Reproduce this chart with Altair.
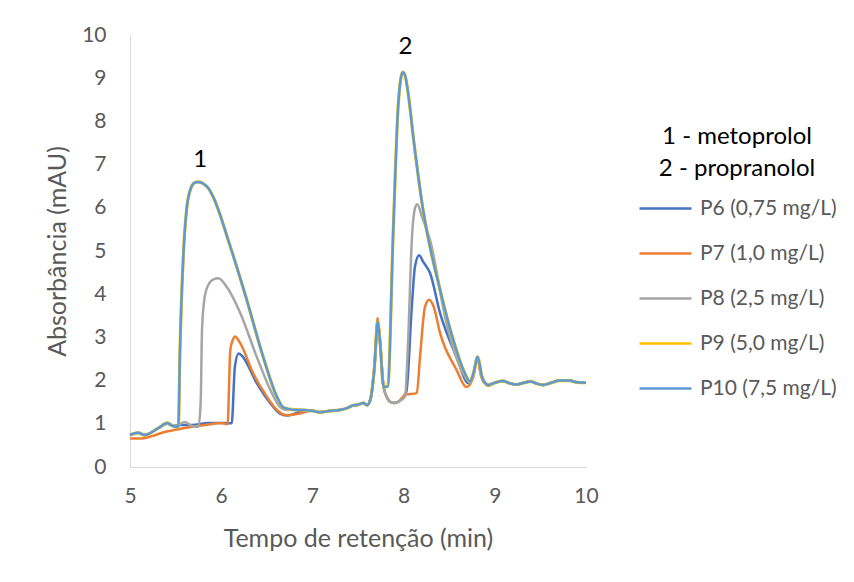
import altair as alt
import pandas as pd

# Retention time (min) and absorbance (mAU) for each standard
P6_T = [5.00, 5.09, 5.16, 5.31, 5.41, 5.47, 5.55, 5.68, 5.86, 6.04, 6.115, 6.15, 6.19, 6.23, 6.39, 6.54, 6.64, 6.72, 6.79,
        6.90, 7.00, 7.08, 7.20, 7.30, 7.40, 7.45, 7.50, 7.56, 7.60, 7.64, 7.68, 7.716, 7.74, 7.78, 7.82, 7.86, 7.90, 7.95, 8.03,
        8.09, 8.125, 8.17, 8.215, 8.29, 8.40, 8.58, 8.71, 8.77, 8.81, 8.85, 8.93, 9.00, 9.09, 9.16, 9.24, 9.32, 9.39, 9.46, 9.53,
        9.62, 9.71, 9.82, 9.90, 10.00]
P6_V = [0.74, 0.79, 0.74, 0.90, 1.00, 0.95, 0.97, 0.97, 1.02, 1.02, 1.01, 2.32, 2.63, 2.57, 1.94, 1.47, 1.24, 1.19, 1.22,
        1.30, 1.30, 1.27, 1.30, 1.32, 1.38, 1.43, 1.44, 1.48, 1.43, 1.60, 2.30, 3.36, 2.94, 1.86, 1.60, 1.50, 1.48, 1.52, 1.74,
        3.71, 4.64, 4.90, 4.75, 4.49, 3.56, 2.55, 1.94, 2.20, 2.55, 2.15, 1.90, 1.95, 1.99, 1.94, 1.91, 1.95, 1.98, 1.93, 1.90,
        1.95, 2.00, 2.00, 1.96, 1.95]

P7_T = [5.00, 5.13, 5.25, 5.38, 5.50, 5.68, 5.82, 6.00, 6.07, 6.10, 6.13, 6.15, 6.21, 6.35, 6.50, 6.61, 6.72, 6.86,
        6.95, 7.00, 7.08, 7.20, 7.30, 7.40, 7.45, 7.50, 7.56, 7.60, 7.64, 7.68, 7.716, 7.74, 7.78, 7.82, 7.86, 7.90, 7.95, 8.015,
        8.145, 8.18, 8.235, 8.28, 8.33, 8.40, 8.58, 8.69, 8.76, 8.81, 8.85, 8.93, 9.00, 9.09, 9.16, 9.24, 9.32, 9.39, 9.46, 9.53,
        9.62, 9.71, 9.82, 9.90, 10.00]
P7_V = [0.66, 0.66, 0.72, 0.81, 0.86, 0.93, 0.97, 1.02, 0.99, 2.71, 2.96, 3.02, 2.86, 2.17, 1.63, 1.32, 1.20, 1.24,
        1.29, 1.30, 1.27, 1.30, 1.32, 1.38, 1.43, 1.44, 1.48, 1.43, 1.60, 2.35, 3.45, 2.94, 1.86, 1.60, 1.50, 1.48, 1.52, 1.67,
        1.71, 2.55, 3.71, 3.87, 3.71, 3.10, 2.25, 1.85, 2.05, 2.50, 2.10, 1.88, 1.95, 1.99, 1.94, 1.91, 1.95, 1.98, 1.93, 1.90,
        1.95, 2.00, 2.00, 1.96, 1.95]

P8_T = [5.00, 5.09, 5.16, 5.31, 5.41, 5.47, 5.53, 5.60, 5.68, 5.75, 5.775, 5.79, 5.82, 5.86, 5.92, 5.97, 6.06, 6.21, 6.39,
        6.54, 6.64, 6.72, 6.80, 6.90, 7.00, 7.08, 7.20, 7.30, 7.40, 7.45, 7.50, 7.56, 7.60, 7.64, 7.68, 7.716, 7.74, 7.78, 7.82,
        7.86, 7.90, 7.95, 8.015, 8.05, 8.09, 8.125, 8.15, 8.20, 8.29, 8.47, 8.65, 8.73, 8.77, 8.81, 8.85, 8.93, 9.00, 9.09, 9.16,
        9.24, 9.32, 9.39, 9.46, 9.53, 9.62, 9.71, 9.82, 9.90, 10.00]
P8_V = [0.74, 0.79, 0.74, 0.90, 1.00, 0.95, 0.97, 1.04, 0.95, 0.93, 1.50, 3.20, 3.95, 4.22, 4.35, 4.37, 4.17, 3.56, 2.55,
        1.78, 1.40, 1.32, 1.33, 1.32, 1.30, 1.27, 1.30, 1.32, 1.38, 1.43, 1.44, 1.48, 1.43, 1.60, 2.30, 3.36, 2.94, 1.86, 1.60,
        1.50, 1.48, 1.52, 1.63, 2.94, 5.25, 5.99, 6.08, 5.80, 5.25, 3.33, 2.18, 1.95, 2.20, 2.55, 2.15, 1.90, 1.95, 1.99, 1.94,
        1.91, 1.95, 1.98, 1.93, 1.90, 1.95, 2.00, 2.00, 1.96, 1.95]

P10_T = [5.00, 5.09, 5.16, 5.31, 5.41, 5.47, 5.53, 5.548, 5.585, 5.62, 5.66, 5.71, 5.75, 5.81, 5.86, 5.91, 6.10, 6.28, 6.46,
         6.61, 6.68, 6.75, 6.83, 6.90, 7.00, 7.08, 7.20, 7.30, 7.40, 7.45, 7.50, 7.56, 7.60, 7.64, 7.68, 7.716, 7.74, 7.78,
         7.825, 7.888, 7.94, 7.97, 7.99, 8.015, 8.05, 8.11, 8.21, 8.40, 8.545, 8.655, 8.73, 8.77, 8.81, 8.87, 8.93, 9.00, 9.09,
         9.16, 9.24, 9.32, 9.39, 9.46, 9.53, 9.62, 9.71, 9.82, 9.90, 10.00]
P10_V = [0.74, 0.79, 0.74, 0.90, 1.02, 0.95, 0.93, 2.71, 4.90, 5.95, 6.41, 6.58, 6.60, 6.55, 6.45, 6.26, 5.10, 3.87, 2.55,
         1.63, 1.38, 1.34, 1.32, 1.32, 1.30, 1.27, 1.30, 1.32, 1.38, 1.43, 1.44, 1.48, 1.43, 1.60, 2.30, 3.36, 2.94, 1.86,
         1.86, 5.56, 8.34, 9.00, 9.14, 9.07, 8.65, 7.57, 6.00, 4.10, 2.94, 2.25, 1.98, 2.20, 2.55, 2.01, 1.90, 1.95, 1.99,
         1.94, 1.91, 1.95, 1.98, 1.93, 1.90, 1.95, 2.00, 2.00, 1.96, 1.95]

# P9 runs underneath P10 along the same trace
P9_T = list(P10_T)
P9_V = list(P10_V)

SERIES = ["P6 (0,75 mg/L)", "P7 (1,0 mg/L)", "P8 (2,5 mg/L)", "P9 (5,0 mg/L)", "P10 (7,5 mg/L)"]
COLORS = ["#4472C4", "#ED7D31", "#A5A5A5", "#FFC000", "#5B9BD5"]
WIDTHS = [2.5, 2.5, 2.5, 3.2, 2.5]
TRACES = [(P6_T, P6_V), (P7_T, P7_V), (P8_T, P8_V), (P9_T, P9_V), (P10_T, P10_V)]

PEAK_LABELS = ["1", "2"]
PEAK_T = [5.77, 8.02]
PEAK_V = [7.10, 9.72]

FONT = "Lato"
GREY_TEXT = "#595959"

frames = []
for name, (t, v) in zip(SERIES, TRACES):
    frames.append(pd.DataFrame({"tempo": t, "abs": v, "serie": name}))
data = pd.concat(frames, ignore_index=True)

x_scale = alt.Scale(domain=[5, 10], nice=False, zero=False)
y_scale = alt.Scale(domain=[0, 10], nice=False, zero=False)

x_enc = alt.X(
    "tempo:Q",
    scale=x_scale,
    axis=alt.Axis(
        title="Tempo de retenção (min)",
        values=[5, 6, 7, 8, 9, 10], format="d", labelFlush=False,
        grid=False, ticks=False,
        domainColor="#D9D9D9", domainWidth=1,
        labelColor=GREY_TEXT, labelFontSize=21, labelFont=FONT, labelPadding=18,
        titleColor=GREY_TEXT, titleFontSize=25, titleFont=FONT, titleFontWeight="normal",
        titlePadding=20,
    ),
)
y_enc = alt.Y(
    "abs:Q",
    scale=y_scale,
    axis=alt.Axis(
        title="Absorbância (mAU)",
        values=list(range(0, 11)), format="d",
        grid=False, ticks=False,
        domainColor="#D9D9D9", domainWidth=1,
        labelColor=GREY_TEXT, labelFontSize=21, labelFont=FONT, labelPadding=24,
        titleColor=GREY_TEXT, titleFontSize=25, titleFont=FONT, titleFontWeight="normal",
        titlePadding=11,
    ),
)
color_enc = alt.Color(
    "serie:N",
    scale=alt.Scale(domain=SERIES, range=COLORS),
    legend=alt.Legend(
        title=["1 - metoprolol", "2 - propranolol"],
        orient="none", legendX=508, legendY=90,
        titleFont=FONT, titleFontSize=24, titleColor="#000000", titleFontWeight="normal",
        titleAnchor="middle", titleAlign="center", titleLineHeight=32, titlePadding=0,
        labelFont=FONT, labelFontSize=21, labelColor=GREY_TEXT, labelOffset=7,
        symbolType="stroke", symbolSize=2704, symbolStrokeWidth=2.5,
        rowPadding=7,
    ),
)

layers = []
for name, w in zip(SERIES, WIDTHS):
    layers.append(
        alt.Chart(data)
        .transform_filter(alt.datum.serie == name)
        .mark_line(strokeWidth=w, interpolate="monotone")
        .encode(x=x_enc, y=y_enc, color=color_enc)
    )

labels = (
    alt.Chart(pd.DataFrame({"tempo": PEAK_T, "abs": PEAK_V, "txt": PEAK_LABELS}))
    .mark_text(font=FONT, fontSize=24, color="#000000", baseline="middle", align="center")
    .encode(x=x_enc, y=y_enc, text="txt:N")
)

chart = (
    alt.layer(*layers, labels)
    .properties(
        width=456, height=432,
        autosize=alt.AutoSizeParams(type="none"),
        padding={"left": 130, "top": 35, "right": 268, "bottom": 115},
    )
    .configure_view(stroke=None)
)

chart.save("out.html", embed_options={"renderer": "svg", "actions": False})
